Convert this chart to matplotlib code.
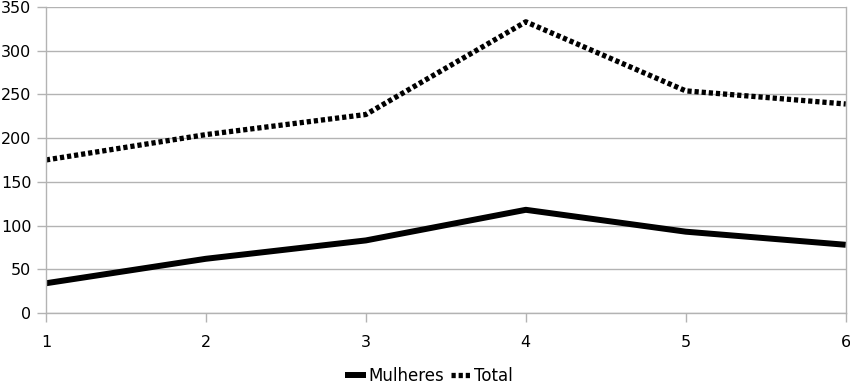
import matplotlib
matplotlib.use("Agg")
import matplotlib.pyplot as plt

plt.rcParams["font.family"] = ["DejaVu Sans"]

x = [1, 2, 3, 4, 5, 6]
mulheres = [34, 62, 83, 118, 93, 78]
total = [175, 204, 227, 333, 254, 239]
yticks = [0, 50, 100, 150, 200, 250, 300, 350]

fig = plt.figure(figsize=(8.5, 3.85), dpi=100)
ax = fig.add_axes([0.054, 0.187, 0.941, 0.795])

grid_c = "#b3b3b3"
ax.plot(x, mulheres, color="black", linewidth=4.3, solid_capstyle="butt",
        solid_joinstyle="round", label="Mulheres")
ax.plot(x, total, color="black", linewidth=3.8, linestyle=(0, (0.8, 0.55)),
        dash_capstyle="butt", label="Total")

ax.set_xlim(1, 6)
ax.set_ylim(0, 350)
ax.set_xticks(x)
ax.set_yticks(yticks)
ax.yaxis.grid(True, color=grid_c, linewidth=1)
ax.set_axisbelow(True)
ax.spines["top"].set_visible(False)
for s in ["left", "bottom", "right"]:
    ax.spines[s].set_color(grid_c)
    ax.spines[s].set_linewidth(1)
ax.tick_params(axis="both", colors=grid_c, labelcolor="black", labelsize=11.5,
               length=6.5, width=1)
ax.tick_params(axis="y", pad=4)
ax.tick_params(axis="x", pad=9)

fig.legend(loc="center", bbox_to_anchor=(0.505, 0.024), ncol=2,
           frameon=False, fontsize=12, handlelength=1.26, handletextpad=0.12,
           columnspacing=0.42, borderpad=0.2)

fig.savefig("out.png", dpi=100)
